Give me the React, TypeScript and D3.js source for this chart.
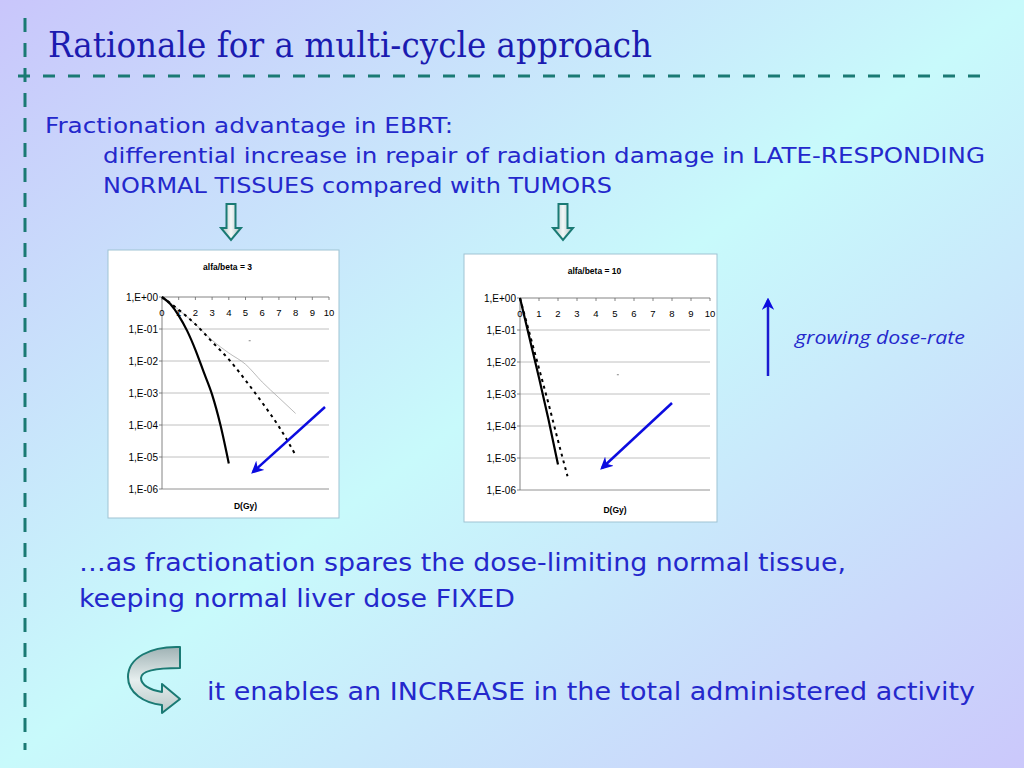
import React from "react";
import * as d3 from "d3";

// dose axis (Gy) and survival fractions
const doses1Solid = [0, 0.5, 1, 1.5, 2, 2.5, 3, 3.5, 4];
const surv1Solid = [1, 0.6, 0.263, 0.089, 0.0224, 0.00447, 8.9e-4, 1.0e-4, 6.3e-6];
const doses1Dashed = [0, 1, 2, 3, 4, 5, 6, 7, 8];
const surv1Dashed = [1, 0.4, 0.141, 0.0398, 0.0112, 0.0025, 5.0e-4, 8.9e-5, 1.15e-5];
const doses1Gray = [0, 1, 2, 3, 4, 5, 6, 7, 8];
const surv1Gray = [1, 0.4, 0.141, 0.0447, 0.0178, 0.0079, 0.0022, 7.1e-4, 2.3e-4];
const stray1 = [5.25, 0.043];

const doses2Solid = [0, 0.5, 1, 1.5, 2];
const surv2Solid = [1, 0.056, 0.0032, 1.6e-4, 6.3e-6];
const doses2Dashed = [0, 0.5, 1, 1.5, 2, 2.5];
const surv2Dashed = [1, 0.079, 0.0063, 5.0e-4, 3.5e-5, 2.7e-6];
const stray2 = [5.15, 0.004];

const xTicks = [0, 1, 2, 3, 4, 5, 6, 7, 8, 9, 10];
const yTicks = [1, 1e-1, 1e-2, 1e-3, 1e-4, 1e-5, 1e-6];
const yTickLabels = ["1,E+00", "1,E-01", "1,E-02", "1,E-03", "1,E-04", "1,E-05", "1,E-06"];

const BLUE = "#2428cc";
const TEAL = "#1a7a74";

type Series = { d: number[]; s: number[]; kind: "solid" | "dashed" | "gray" };

interface PanelProps {
  box: { x: number; y: number; w: number; h: number };
  plot: { l: number; r: number; t: number; b: number };
  title: string;
  series: Series[];
  stray: number[];
  arrow: [number, number, number, number];
}

const Panel: React.FC<PanelProps> = ({ box, plot, title, series, stray, arrow }) => {
  const x = d3.scaleLinear().domain([0, 10]).range([plot.l, plot.r]);
  const y = d3.scaleLog().domain([1e-6, 1]).range([plot.b, plot.t]);
  const line = d3
    .line<[number, number]>()
    .x((p) => x(p[0]))
    .y((p) => y(p[1]))
    .curve(d3.curveMonotoneX);

  return (
    <g fontFamily="Liberation Sans, Arial, sans-serif">
      <rect x={box.x} y={box.y} width={box.w} height={box.h} fill="#ffffff" stroke="#9fc3d3" strokeWidth={1} />
      <text x={(box.x + box.x + box.w) / 2 + 4} y={box.y + 20} fontSize={8.5} fontWeight="bold" textAnchor="middle">
        {title}
      </text>
      {yTicks.map((t, i) => (
        <g key={i}>
          {i > 0 && (
            <line x1={plot.l} x2={plot.r} y1={y(t)} y2={y(t)} stroke={i === 6 ? "#777" : "#b0b0b0"} strokeWidth={0.8} />
          )}
          <line x1={plot.l - 3} x2={plot.l} y1={y(t)} y2={y(t)} stroke="#666" strokeWidth={0.8} />
          <text x={plot.l - 4} y={y(t) + 3.5} fontSize={10} textAnchor="end">
            {yTickLabels[i]}
          </text>
        </g>
      ))}
      <line x1={plot.l} x2={plot.l} y1={plot.t} y2={plot.b} stroke="#666" strokeWidth={0.8} />
      <line x1={plot.l} x2={plot.r} y1={plot.t} y2={plot.t} stroke="#666" strokeWidth={0.8} />
      {xTicks.map((t) => (
        <g key={t}>
          <line x1={x(t)} x2={x(t)} y1={plot.t} y2={plot.t + 3} stroke="#666" strokeWidth={0.8} />
          <text x={x(t)} y={plot.t + 19} fontSize={9.5} textAnchor="middle">
            {t}
          </text>
        </g>
      ))}
      {series.map((s, i) => (
        <path
          key={i}
          d={line(s.d.map((v, j) => [v, s.s[j]] as [number, number])) || ""}
          fill="none"
          stroke={s.kind === "gray" ? "#a8a8a8" : "#000"}
          strokeWidth={s.kind === "gray" ? 0.8 : s.kind === "solid" ? 2.2 : 2}
          strokeDasharray={s.kind === "dashed" ? "3,4" : undefined}
        />
      ))}
      <rect x={x(stray[0]) - 1} y={y(stray[1]) - 0.5} width={2} height={1} fill="#888" />
      <text x={(plot.l + plot.r) / 2} y={box.y + box.h - 9} fontSize={8.5} fontWeight="bold" textAnchor="middle">
        D(Gy)
      </text>
      <line
        x1={arrow[0]}
        y1={arrow[1]}
        x2={arrow[2]}
        y2={arrow[3]}
        stroke="#0c0ce0"
        strokeWidth={2.5}
        markerEnd="url(#blueHead)"
      />
    </g>
  );
};

const downArrow = (cx: number) =>
  `M${cx - 4.5},204 L${cx + 4.5},204 L${cx + 4.5},228 L${cx + 10},228 L${cx},240 L${cx - 10},228 L${cx - 4.5},228 Z`;

export default function App() {
  return (
    <svg width={1024} height={768} style={{ position: "absolute", left: 0, top: 0 }}>
      <defs>
        <linearGradient id="bg" x1="0" y1="0" x2="1" y2="1">
          <stop offset="0" stopColor="#c9c6fb" />
          <stop offset="0.5" stopColor="#c8fafb" />
          <stop offset="1" stopColor="#cbc8fb" />
        </linearGradient>
        <linearGradient id="arrowFill" x1="0" y1="0" x2="1" y2="0">
          <stop offset="0" stopColor="#a9bcbc" />
          <stop offset="0.5" stopColor="#f2f8f8" />
          <stop offset="1" stopColor="#a9bcbc" />
        </linearGradient>
        <linearGradient id="curveFill" x1="0" y1="0" x2="0" y2="1">
          <stop offset="0" stopColor="#9fb2b4" />
          <stop offset="0.5" stopColor="#e6eeee" />
          <stop offset="1" stopColor="#b8c8c8" />
        </linearGradient>
        <marker id="blueHead" viewBox="0 0 10 10" refX="8" refY="5" markerWidth="5" markerHeight="5" orient="auto">
          <path d="M0,0 L10,5 L0,10 L3,5 Z" fill="#0c0ce0" />
        </marker>
      </defs>
      <rect x={0} y={0} width={1024} height={768} fill="url(#bg)" />

      {/* frame dashes */}
      <line x1={25} x2={25} y1={18} y2={750} stroke={TEAL} strokeWidth={3} strokeDasharray="14,11" />
      <line x1={18} x2={982} y1={76} y2={76} stroke={TEAL} strokeWidth={3} strokeDasharray="12,13" />

      <text
        x={48}
        y={57}
        fontSize={36}
        fill="#1b1bb0"
        fontFamily="DejaVu Serif, serif"
        textLength={604}
        lengthAdjust="spacingAndGlyphs"
      >
        Rationale for a multi-cycle approach
      </text>

      <g fill={BLUE} fontFamily="DejaVu Sans, sans-serif">
        <text x={45} y={133} fontSize={22} textLength={408} lengthAdjust="spacingAndGlyphs">
          Fractionation advantage in EBRT:
        </text>
        <text x={103} y={163} fontSize={22} textLength={882} lengthAdjust="spacingAndGlyphs">
          differential increase in repair of radiation damage in LATE-RESPONDING
        </text>
        <text x={103} y={193} fontSize={22} textLength={509} lengthAdjust="spacingAndGlyphs">
          NORMAL TISSUES compared with TUMORS
        </text>
        <text x={79} y={571} fontSize={24} textLength={767} lengthAdjust="spacingAndGlyphs">
          …as fractionation spares the dose-limiting normal tissue,
        </text>
        <text x={79} y={607} fontSize={24} textLength={436} lengthAdjust="spacingAndGlyphs">
          keeping normal liver dose FIXED
        </text>
        <text x={207} y={700} fontSize={24} textLength={768} lengthAdjust="spacingAndGlyphs">
          it enables an INCREASE in the total administered activity
        </text>
      </g>

      <path d={downArrow(231)} fill="url(#arrowFill)" stroke={TEAL} strokeWidth={2} strokeLinejoin="miter" />
      <path d={downArrow(563)} fill="url(#arrowFill)" stroke={TEAL} strokeWidth={2} strokeLinejoin="miter" />

      <Panel
        box={{ x: 108, y: 250, w: 231, h: 268 }}
        plot={{ l: 162, r: 329, t: 297, b: 489 }}
        title="alfa/beta = 3"
        series={[
          { d: doses1Gray, s: surv1Gray, kind: "gray" },
          { d: doses1Dashed, s: surv1Dashed, kind: "dashed" },
          { d: doses1Solid, s: surv1Solid, kind: "solid" },
        ]}
        stray={stray1}
        arrow={[325, 407, 253, 472]}
      />
      <Panel
        box={{ x: 464, y: 254, w: 253, h: 268 }}
        plot={{ l: 520, r: 710, t: 298, b: 490 }}
        title="alfa/beta = 10"
        series={[
          { d: doses2Dashed, s: surv2Dashed, kind: "dashed" },
          { d: doses2Solid, s: surv2Solid, kind: "solid" },
        ]}
        stray={stray2}
        arrow={[672, 403, 602, 468]}
      />

      {/* dose-rate annotation */}
      <line x1={768} x2={768} y1={376} y2={300} stroke="#1a1ad0" strokeWidth={2.5} markerEnd="url(#blueHead)" />
      <text
        x={795}
        y={344}
        fontSize={19}
        fontStyle="italic"
        fill={BLUE}
        fontFamily="Open Sans, sans-serif"
        textLength={170}
        lengthAdjust="spacingAndGlyphs"
      >
        growing dose-rate
      </text>

      {/* curved arrow */}
      <path
        d="M180,647 C150,646 128,658 128,677 C128,693 144,703 162,705 L162,713 L180,699 L162,684 L162,692 C150,690 141,685 141,678 C141,671 156,668 180,668 Z"
        fill="url(#curveFill)"
        stroke={TEAL}
        strokeWidth={2}
        strokeLinejoin="round"
      />
    </svg>
  );
}
